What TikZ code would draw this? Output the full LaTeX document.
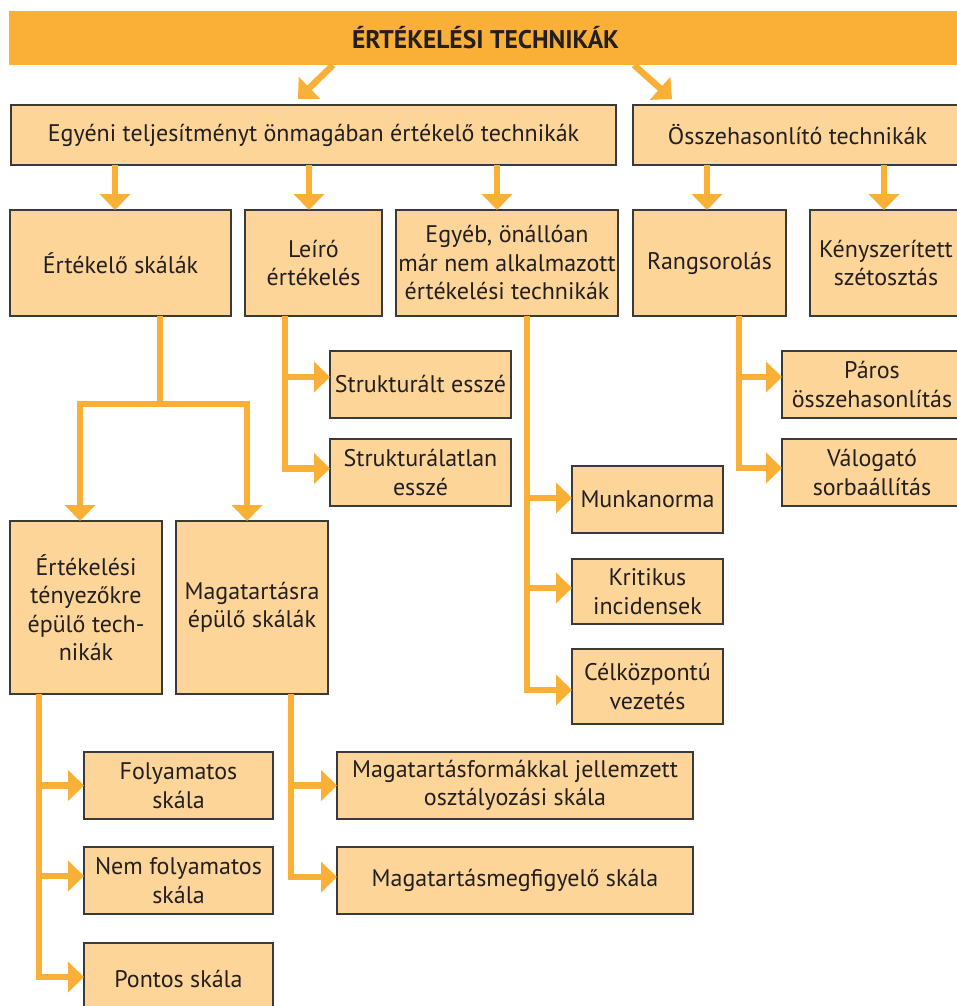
\documentclass[tikz,border=0pt]{standalone}
\usepackage{fontspec}
\setmainfont{PT Sans}
\usetikzlibrary{arrows.meta}
\definecolor{org}{HTML}{FAAF36}
\definecolor{peach}{HTML}{FDD598}
\definecolor{bord}{HTML}{3A3A3A}
\definecolor{txt}{HTML}{231F20}
\begin{document}
\begin{tikzpicture}[x=1pt,y=-1pt,
  box/.style={draw=bord, line width=1.1pt, fill=peach, inner sep=0pt, outer sep=0pt,
    align=center, text=txt, font=\fontsize{24}{28.5}\selectfont},
  banner/.style={fill=org, inner sep=0pt, outer sep=0pt, text=txt,
    font=\fontsize{25.5}{28}\selectfont\bfseries},
  conn/.style={draw=org, line width=6.5pt, -{Triangle[width=30pt,length=16pt]}}]
\useasboundingbox (0,0) rectangle (957,1006);
\clip (0,0) rectangle (957,1006);
% nodes
\node[banner, minimum width=953pt, minimum height=54pt] (ban) at (485.5,38) {ÉRTÉKELÉSI TECHNIKÁK};
\node[box, minimum width=605pt, minimum height=60pt] (egy) at (313.5,135) {Egyéni teljesítményt önmagában értékelő technikák};
\node[box, minimum width=329pt, minimum height=60pt] (ossz) at (797.5,135) {Összehasonlító technikák};
\node[box, minimum width=221pt, minimum height=106pt] (ert) at (120.5,263) {Értékelő skálák};
\node[box, minimum width=137pt, minimum height=106pt] (leiro) at (313.5,263) {Leíró\\értékelés};
\node[box, minimum width=222pt, minimum height=106pt] (egyeb) at (507,263) {Egyéb, önállóan\\már nem alkalmazott\\értékelési technikák};
\node[box, minimum width=153pt, minimum height=106pt] (rang) at (709.5,263) {Rangsorolás};
\node[box, minimum width=152pt, minimum height=106pt] (keny) at (886,263) {Kényszerített\\szétosztás};
\node[box, minimum width=181pt, minimum height=67pt] (strk) at (420.5,384.5) {Strukturált esszé};
\node[box, minimum width=181pt, minimum height=67pt] (strl) at (420.5,472.5) {Strukturálatlan\\esszé};
\node[box, minimum width=180pt, minimum height=67pt] (paros) at (872,384.5) {Páros\\összehasonlítás};
\node[box, minimum width=180pt, minimum height=67pt] (valo) at (872,472.5) {Válogató\\sorbaállítás};
\node[box, minimum width=151pt, minimum height=67pt] (munka) at (647.5,499.5) {Munkanorma};
\node[box, minimum width=151pt, minimum height=65pt] (krit) at (647.5,591.5) {Kritikus\\incidensek};
\node[box, minimum width=151pt, minimum height=75pt] (cel) at (647.5,686.5) {Célközpontú\\vezetés};
\node[box, minimum width=152pt, minimum height=173pt] (ertt) at (86,607.5) {Értékelési\\tényezőkre\\épülő tech-\\nikák};
\node[box, minimum width=152pt, minimum height=173pt] (mag) at (252,607.5) {Magatartásra\\épülő skálák};
\node[box, minimum width=189pt, minimum height=67pt] (foly) at (178.5,785.5) {Folyamatos\\skála};
\node[box, minimum width=189pt, minimum height=67pt] (nemf) at (178.5,880.5) {Nem folyamatos\\skála};
\node[box, minimum width=189pt, minimum height=72pt] (pont) at (178.5,979) {Pontos skála};
\node[box, minimum width=356pt, minimum height=67pt] (magf) at (515,785.5) {Magatartásformákkal jellemzett\\osztályozási skála};
\node[box, minimum width=356pt, minimum height=67pt] (magm) at (515,880.5) {Magatartásmegfigyelő skála};
% connectors
\draw[conn] ([xshift=324pt]ban.south west) -- ([xshift=287pt,yshift=6pt]egy.north west);
\draw[conn] ([xshift=625pt]ban.south west) -- ([xshift=39pt,yshift=6pt]ossz.north west);
\draw[conn] ([xshift=-198.5pt]egy.south) -- ([xshift=-5.5pt]ert.north);
\draw[conn] ([xshift=-4.5pt]egy.south) -- ([xshift=-4.5pt]leiro.north);
\draw[conn] ([xshift=183.5pt]egy.south) -- ([xshift=-10pt]egyeb.north);
\draw[conn] ([xshift=-90.5pt]ossz.south) -- ([xshift=-2.5pt]rang.north);
\draw[conn] ([xshift=86.5pt]ossz.south) -- ([xshift=-2pt]keny.north);
\draw[conn] ([xshift=39.5pt]ert.south) -- ++(0,88) -| ([xshift=-6pt]ertt.north);
\draw[conn] ([xshift=39.5pt]ert.south) -- ++(0,88) -| ([xshift=-5pt]mag.north);
\draw[conn] ([xshift=-28.5pt]leiro.south) |- ([yshift=7.5pt]strk.west);
\draw[conn] ([xshift=-28.5pt]leiro.south) |- ([yshift=4pt]strl.west);
\draw[conn] ([xshift=20pt]egyeb.south) |- ([yshift=1.5pt]munka.west);
\draw[conn] ([xshift=20pt]egyeb.south) |- ([yshift=3.5pt]krit.west);
\draw[conn] ([xshift=20pt]egyeb.south) |- ([yshift=-3.5pt]cel.west);
\draw[conn] ([xshift=29.5pt]rang.south) |- ([yshift=7.5pt]paros.west);
\draw[conn] ([xshift=29.5pt]rang.south) |- ([yshift=4.5pt]valo.west);
\draw[conn] ([xshift=-47pt]ertt.south) |- (foly.west);
\draw[conn] ([xshift=-47pt]ertt.south) |- ([yshift=4.5pt]nemf.west);
\draw[conn] ([xshift=-47pt]ertt.south) |- ([yshift=2pt]pont.west);
\draw[conn] ([xshift=39pt]mag.south) |- (magf.west);
\draw[conn] ([xshift=39pt]mag.south) |- ([yshift=3.5pt]magm.west);
\end{tikzpicture}
\end{document}
